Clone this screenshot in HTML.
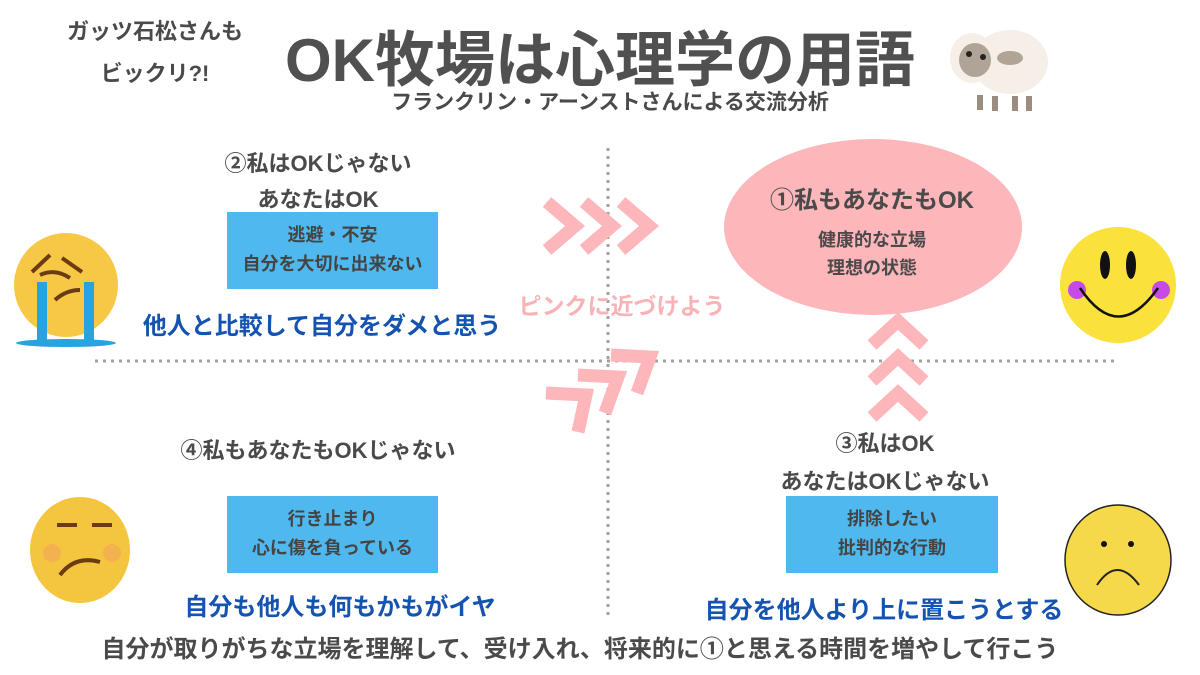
<!DOCTYPE html>
<html><head><meta charset="utf-8"><style>
body{margin:0;width:1200px;height:675px;background:#fff;position:relative;overflow:hidden;font-family:"Liberation Sans","Noto Sans CJK JP",sans-serif;font-weight:bold;color:#4a4a4a}
.t{position:absolute;white-space:nowrap;text-align:center;transform:translateX(-50%)}
.box{position:absolute;background:#4fb8ee;text-align:center;font-size:18px;line-height:29px;padding-top:9px;box-sizing:border-box;color:#444}
.blue{color:#1553b0;font-size:24px}
svg{position:absolute;left:0;top:0}
</style></head><body>
<svg width="1200" height="675">
<line x1="608" y1="148" x2="608" y2="615" stroke="#a8a09a" stroke-width="3" stroke-dasharray="3 5"/>
<line x1="95" y1="361" x2="1115" y2="361" stroke="#a8a09a" stroke-width="3" stroke-dasharray="3 5"/>
<ellipse cx="873" cy="227" rx="149" ry="88" fill="#fdb6ba"/>
<g fill="none" stroke="#fdb6ba" stroke-width="13" stroke-linejoin="miter" stroke-miterlimit="10">
<polyline points="547,202 575,226 547,250"/>
<polyline points="584,202 612,226 584,250"/>
<polyline points="621,202 649,226 621,250"/>
<polyline points="872,345 898,321 924,345"/>
<polyline points="872,381 898,357 924,381"/>
<polyline points="872,417 898,393 924,417"/>
<polyline points="546,393 586,395 578,432"/>
<polyline points="578,375 618,377 605,413"/>
<polyline points="611,355 650,357 637,393"/>
</g>
<!-- sheep -->
<g>
<ellipse cx="1010" cy="62" rx="38" ry="32" fill="#f6efe8"/>
<ellipse cx="972" cy="58" rx="22" ry="25" fill="#f6efe8"/>
<ellipse cx="975" cy="60" rx="16" ry="17" fill="#b0a496"/>
<ellipse cx="1010" cy="58" rx="13" ry="7" fill="#b0a496"/>
<circle cx="969" cy="54" r="3" fill="#222"/><circle cx="983" cy="57" r="3" fill="#222"/>
<rect x="977" y="95" width="6" height="15" fill="#9a8d7f"/><rect x="992" y="96" width="6" height="15" fill="#9a8d7f"/>
<rect x="1012" y="96" width="6" height="15" fill="#9a8d7f"/><rect x="1026" y="96" width="6" height="15" fill="#9a8d7f"/>
</g>
<!-- crying -->
<circle cx="66" cy="285" r="52" fill="#f6c845"/>
<path d="M32 272 L50 255 M62 258 L82 272 M40 275 Q55 268 70 278 M80 290 Q66 290 55 300" stroke="#6b3b12" stroke-width="4" fill="none"/>
<rect x="37" y="282" width="10" height="60" fill="#27a3df"/><rect x="84" y="282" width="10" height="60" fill="#27a3df"/>
<ellipse cx="66" cy="343" rx="50" ry="4" fill="#27a3df"/>
<!-- smiley -->
<circle cx="1118" cy="285" r="58" fill="#fbe13c"/>
<ellipse cx="1105" cy="265" rx="5" ry="14" fill="#111"/><ellipse cx="1131" cy="265" rx="5" ry="14" fill="#111"/>
<circle cx="1077" cy="290" r="9" fill="#c64ae8"/><circle cx="1161" cy="290" r="9" fill="#c64ae8"/>
<path d="M1080 288 Q1118 345 1158 288" stroke="#111" stroke-width="2.5" fill="none"/>
<!-- unamused -->
<ellipse cx="80" cy="550" rx="50" ry="53" fill="#f4c640"/>
<path d="M57 525 h20 M92 525 h20 M60 575 Q75 555 100 562" stroke="#6b3b12" stroke-width="4" fill="none"/>
<circle cx="52" cy="553" r="9" fill="#f2a35a" opacity=".6"/><circle cx="112" cy="553" r="9" fill="#f2a35a" opacity=".6"/>
<!-- frown -->
<ellipse cx="1118" cy="560" rx="53" ry="55" fill="#f6d94a" stroke="#222" stroke-width="1.5"/>
<circle cx="1104" cy="544" r="3" fill="#111"/><circle cx="1131" cy="544" r="3" fill="#111"/>
<path d="M1097 585 Q1117 555 1139 585" stroke="#222" stroke-width="2" fill="none"/>
</svg>
<div class="t" style="left:155px;top:14px;font-size:22px">ガッツ石松さんも</div>
<div class="t" style="left:155px;top:56px;font-size:22px">ビックリ?!</div>
<div class="t" style="left:600px;top:12px;font-size:60px;color:#505050">OK牧場は心理学の用語</div>
<div class="t" style="left:610px;top:86px;font-size:21px">フランクリン・アーンストさんによる交流分析</div>
<div class="t" style="left:318px;top:146px;font-size:22px">②私はOKじゃない</div>
<div class="t" style="left:318px;top:182px;font-size:22px">あなたはOK</div>
<div class="box" style="left:227px;top:212px;width:211px;height:77px">逃避・不安<br>自分を大切に出来ない</div>
<div class="t blue" style="left:322px;top:306px">他人と比較して自分をダメと思う</div>
<div class="t" style="left:622px;top:287px;font-size:23px;color:#f8b3b7">ピンクに近づけよう</div>
<div class="t" style="left:872px;top:180px;font-size:24px">①私もあなたもOK</div>
<div class="t" style="left:872px;top:226px;font-size:18px;line-height:28px">健康的な立場<br>理想の状態</div>
<div class="t" style="left:318px;top:433px;font-size:22px">④私もあなたもOKじゃない</div>
<div class="box" style="left:227px;top:496px;width:211px;height:77px">行き止まり<br>心に傷を負っている</div>
<div class="t blue" style="left:340px;top:587px">自分も他人も何もかもがイヤ</div>
<div class="t" style="left:885px;top:426px;font-size:22px">③私はOK</div>
<div class="t" style="left:885px;top:464px;font-size:22px">あなたはOKじゃない</div>
<div class="box" style="left:786px;top:496px;width:212px;height:77px">排除したい<br>批判的な行動</div>
<div class="t blue" style="left:884px;top:590px">自分を他人より上に置こうとする</div>
<div class="t" style="left:580px;top:629px;font-size:24px">自分が取りがちな立場を理解して、受け入れ、将来的に①と思える時間を増やして行こう</div>
</body></html>
